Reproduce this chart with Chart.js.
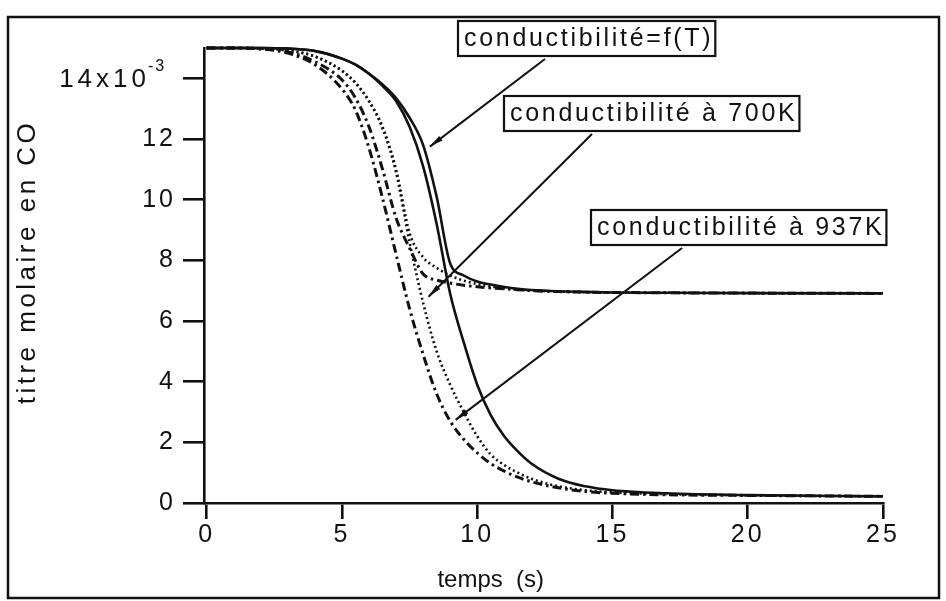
<!DOCTYPE html>
<html>
<head>
<meta charset="utf-8">
<title>titre molaire en CO</title>
<script src="https://cdn.jsdelivr.net/npm/chart.js@4.4.0/dist/chart.umd.min.js"></script>
<style>
  html, body { margin: 0; padding: 0; background: #fff; }
  canvas { display: block; }
</style>
</head>
<body>
<canvas id="grafica" width="946" height="601"></canvas>
<script>
// temps (s)
var temps = [0, 1, 2, 3, 4, 5, 5.5, 6, 6.5, 7, 7.5, 8, 8.5, 9, 9.5, 10, 10.5, 11, 11.5, 12, 13, 14, 15, 17, 20, 25];

// titre molaire en CO (x10^-3), trois conductibilites, deux cas chacune
var fT_haut   = [15, 15, 15, 14.98, 14.9, 14.65, 14.45, 14.15, 13.8, 13.35, 12.7, 11.8, 10.1, 7.9, 7.5, 7.3, 7.2, 7.12, 7.06, 7.02, 6.98, 6.96, 6.94, 6.93, 6.92, 6.91];
var fT_bas    = [15, 15, 15, 14.98, 14.9, 14.65, 14.45, 14.15, 13.75, 13.25, 12.4, 11.1, 9.2, 6.9, 5.3, 3.9, 2.9, 2.2, 1.7, 1.3, 0.8, 0.55, 0.42, 0.32, 0.26, 0.22];
var k700_haut = [15, 15, 14.99, 14.92, 14.72, 14.25, 13.85, 13.25, 12.4, 11.0, 8.9, 8.1, 7.75, 7.5, 7.33, 7.22, 7.14, 7.08, 7.04, 7.01, 6.97, 6.95, 6.94, 6.93, 6.92, 6.91];
var k700_bas  = [15, 15, 14.99, 14.92, 14.72, 14.25, 13.85, 13.25, 12.35, 10.9, 8.6, 6.6, 5.0, 3.9, 3.0, 2.2, 1.6, 1.25, 1.0, 0.8, 0.55, 0.42, 0.35, 0.29, 0.25, 0.22];
var k937_haut = [15, 15, 14.97, 14.87, 14.55, 13.95, 13.35, 12.4, 11.0, 9.4, 8.4, 7.55, 7.35, 7.25, 7.18, 7.13, 7.09, 7.06, 7.03, 7.0, 6.97, 6.95, 6.94, 6.93, 6.92, 6.91];
var k937_bas  = [15, 15, 14.97, 14.83, 14.45, 13.65, 12.95, 11.7, 10.05, 8.2, 6.4, 4.9, 3.6, 2.7, 2.1, 1.65, 1.3, 1.05, 0.85, 0.7, 0.5, 0.38, 0.32, 0.27, 0.25, 0.22];

var xTicks = [0, 5, 10, 15, 20, 25];
var yTicks = [0, 2, 4, 6, 8, 10, 12, 14];

var etiquettes = ["conductibilité=f(T)", "conductibilité à 700K", "conductibilité à 937K"];
// point vise par chaque fleche (temps, titre)
var ciblesT = [8.25, 8.2, 9.2];
var ciblesY = [11.75, 6.8, 2.74];

var police = '"Liberation Sans", Arial, Helvetica, sans-serif';
var noir = '#111';

function points(valeurs) {
    return temps.map(function(t, i) { return { x: t, y: valeurs[i] }; });
}

function courbe(valeurs, tirets, epaisseur) {
    return {
        data: points(valeurs),
        borderColor: noir,
        borderWidth: epaisseur,
        borderDash: tirets,
        pointRadius: 0,
        fill: false,
        clip: false,
        cubicInterpolationMode: 'monotone'
    };
}

function fleche(ctx, x1, y1, x2, y2) {
    var a = Math.atan2(y2 - y1, x2 - x1);
    ctx.beginPath();
    ctx.moveTo(x1, y1);
    ctx.lineTo(x2, y2);
    ctx.stroke();
    ctx.beginPath();
    ctx.moveTo(x2, y2);
    ctx.lineTo(x2 - 14 * Math.cos(a - 0.2), y2 - 14 * Math.sin(a - 0.2));
    ctx.lineTo(x2 - 14 * Math.cos(a + 0.2), y2 - 14 * Math.sin(a + 0.2));
    ctx.closePath();
    ctx.fill();
}

var habillage = {
    id: 'habillage',
    beforeDraw: function(chart) {
        chart.ctx.letterSpacing = '3px';
    },
    afterDraw: function(chart) {
        var ctx = chart.ctx, xs = chart.scales.x, ys = chart.scales.y;
        ctx.save();
        ctx.strokeStyle = noir;
        ctx.fillStyle = noir;

        // cadre exterieur
        ctx.lineWidth = 2.5;
        ctx.strokeRect(8, 17, 931, 581);

        // etiquette 14x10^-3
        var y14 = ys.getPixelForValue(14);
        ctx.letterSpacing = '4px';
        ctx.font = '26px ' + police;
        ctx.textAlign = 'right';
        ctx.textBaseline = 'middle';
        ctx.fillText('14x10', 150, y14 + 1);
        ctx.font = '16px ' + police;
        ctx.textAlign = 'left';
        ctx.letterSpacing = '2px';
        ctx.fillText('-3', 148, y14 - 12);

        // titres des axes
        ctx.font = '24px ' + police;
        ctx.letterSpacing = '0px';
        ctx.textAlign = 'center';
        ctx.fillText('temps  (s)', xs.getPixelForValue(10.5), 580);
        ctx.save();
        ctx.translate(28, 262);
        ctx.rotate(-Math.PI / 2);
        ctx.font = '26px ' + police;
        ctx.letterSpacing = '3.5px';
        ctx.fillText('titre molaire en CO', 0, 0);
        ctx.restore();

        // cadres de legende et fleches
        var cadres = [[458, 21, 545], [504, 96, 592], [591, 210, 682]];
        ctx.font = '25px ' + police;
        ctx.letterSpacing = '2.7px';
        ctx.textAlign = 'left';
        ctx.textBaseline = 'middle';
        for (var i = 0; i < etiquettes.length; i++) {
            var bx = cadres[i][0], by = cadres[i][1];
            var w = ctx.measureText(etiquettes[i]).width + 8;
            var h = 35;
            ctx.lineWidth = 2.2;
            ctx.strokeRect(bx, by, w, h);
            ctx.fillText(etiquettes[i], bx + 6, by + h / 2 + 1);
            ctx.lineWidth = 2;
            fleche(ctx, cadres[i][2], by + h + 3, xs.getPixelForValue(ciblesT[i]), ys.getPixelForValue(ciblesY[i]));
        }
        ctx.restore();
    }
};

new Chart(document.getElementById('grafica').getContext('2d'), {
    type: 'line',
    data: {
        datasets: [
            courbe(fT_haut, [], 2.6),
            courbe(fT_bas, [], 2.6),
            courbe(k700_haut, [2, 3], 2.6),
            courbe(k700_bas, [2, 3], 2.6),
            courbe(k937_haut, [9, 4, 2.5, 4], 3),
            courbe(k937_bas, [9, 4, 2.5, 4], 3)
        ]
    },
    options: {
        responsive: false,
        animation: false,
        events: [],
        layout: { padding: { left: 14, right: 63, top: 48, bottom: 8 } },
        plugins: { legend: { display: false }, tooltip: { enabled: false } },
        scales: {
            x: {
                type: 'linear',
                min: -0.1,
                max: 25,
                afterBuildTicks: function(axis) {
                    axis.ticks = xTicks.map(function(v) { return { value: v }; });
                },
                afterFit: function(scale) { scale.height = 90; },
                border: { display: true, color: noir, width: 2.6 },
                grid: { drawOnChartArea: false, drawTicks: true, tickLength: 16, color: noir, lineWidth: 2.6 },
                ticks: {
                    color: noir,
                    padding: 1,
                    maxRotation: 0,
                    font: { family: police, size: 25 }
                },
                title: { display: false }
            },
            y: {
                min: 0,
                max: 15,
                afterBuildTicks: function(axis) {
                    axis.ticks = yTicks.map(function(v) { return { value: v }; });
                },
                afterFit: function(scale) { scale.width = 190; },
                border: { display: true, color: noir, width: 2.6 },
                grid: { drawOnChartArea: false, drawTicks: true, tickLength: 21, color: noir, lineWidth: 2.6 },
                ticks: {
                    color: noir,
                    padding: 7,
                    font: { family: police, size: 25 },
                    callback: function(v) { return v === 14 ? '' : String(v); }
                },
                title: { display: false }
            }
        }
    },
    plugins: [habillage]
});
</script>
</body>
</html>
